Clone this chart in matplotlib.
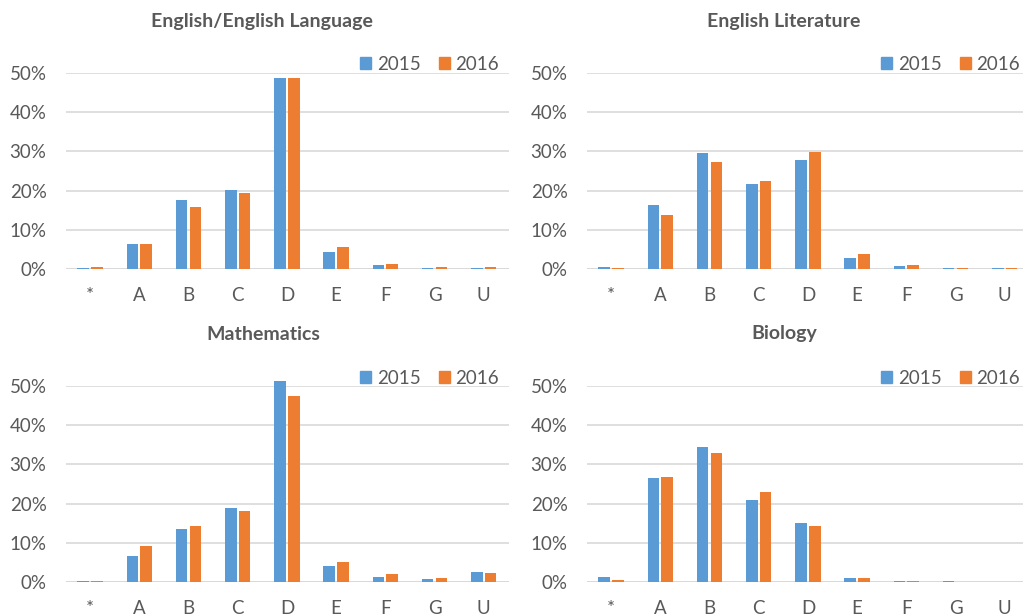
import matplotlib.pyplot as plt
import numpy as np
from matplotlib.ticker import PercentFormatter
from matplotlib.patches import Patch

grades = ['*', 'A', 'B', 'C', 'D', 'E', 'F', 'G', 'U']
years = ['2015', '2016']

subjects = ['English/English Language', 'English Literature', 'Mathematics', 'Biology']

english_2015 = [0.2, 6.3, 17.5, 20.2, 48.8, 4.3, 1.0, 0.3, 0.3]
english_2016 = [0.5, 6.3, 15.8, 19.4, 48.8, 5.5, 1.3, 0.5, 0.5]
englit_2015 = [0.5, 16.4, 29.7, 21.7, 27.8, 2.8, 0.8, 0.3, 0.3]
englit_2016 = [0.3, 13.8, 27.3, 22.5, 29.9, 3.8, 1.0, 0.3, 0.3]
maths_2015 = [0.25, 6.7, 13.6, 18.8, 51.3, 4.2, 1.4, 0.85, 2.5]
maths_2016 = [0.25, 9.2, 14.4, 18.1, 47.4, 5.0, 2.0, 1.1, 2.3]
bio_2015 = [1.4, 26.6, 34.4, 20.8, 15.0, 1.1, 0.25, 0.25, 0.0]
bio_2016 = [0.6, 26.9, 32.9, 23.0, 14.4, 1.1, 0.25, 0.0, 0.0]

series = [(english_2015, english_2016), (englit_2015, englit_2016),
          (maths_2015, maths_2016), (bio_2015, bio_2016)]

blue = '#5B9BD5'
orange = '#ED7D31'
text_col = '#595959'
grid_col = '#D9D9D9'

plt.rcParams['font.family'] = ['Lato', 'DejaVu Sans']

W, H = 1023, 616
fig = plt.figure(figsize=(W / 100, H / 100), dpi=100)

# axes rectangles in pixels: left, top(50% line), right, bottom(0% line)
boxes = [(66, 73, 509, 269), (587, 73, 1023, 269),
         (66, 386, 509, 582), (587, 386, 1023, 582)]
title_pos = [(262, 21), (784, 21), (263, 334), (784, 334)]
legend_y = [64, 64, 378, 378]

x = np.arange(len(grades))
bw = 0.235
off = 0.14

for i in range(4):
    l, t, r, b = boxes[i]
    ax = fig.add_axes([l / W, (H - b) / H, (r - l) / W, (b - t) / H])
    y15, y16 = series[i]
    ax.bar(x - off, np.array(y15) / 100, bw, color=blue, label=years[0], zorder=3, clip_on=False)
    ax.bar(x + off, np.array(y16) / 100, bw, color=orange, label=years[1], zorder=3, clip_on=False)
    ax.set_ylim(0, 0.5)
    ax.set_xlim(-0.49, -0.49 + (r - l) / 49.2)
    ax.set_yticks(np.arange(0, 0.51, 0.1))
    ax.yaxis.set_major_formatter(PercentFormatter(1.0, decimals=0))
    ax.set_xticks(x)
    ax.set_xticklabels(grades)
    ax.tick_params(axis='both', length=0, labelsize=13.5, colors=text_col)
    ax.tick_params(axis='x', pad=13)
    ax.tick_params(axis='y', pad=14)
    ax.grid(axis='y', color=grid_col, lw=1.2, zorder=0)
    ax.set_axisbelow(True)
    for s in ax.spines.values():
        s.set_visible(False)
    ax.axhline(0, color=grid_col, lw=1.4, zorder=2)

    tx, ty = title_pos[i]
    fig.text(tx / W, 1 - ty / H, subjects[i], ha='center', va='center',
             fontsize=14, fontweight='bold', color=text_col)

    handles = [Patch(color=blue), Patch(color=orange)]
    leg_right = 499 if i % 2 == 0 else 1020
    ax.legend(handles, years, loc='center right',
              bbox_to_anchor=((leg_right - l) / (r - l), (b - legend_y[i]) / (b - t)),
              frameon=False, fontsize=13.5, labelcolor=text_col, ncol=2,
              handlelength=0.6, handleheight=0.6, handletextpad=0.3,
              columnspacing=0.95, borderaxespad=0, borderpad=0)

fig.savefig('out.png', dpi=100)
